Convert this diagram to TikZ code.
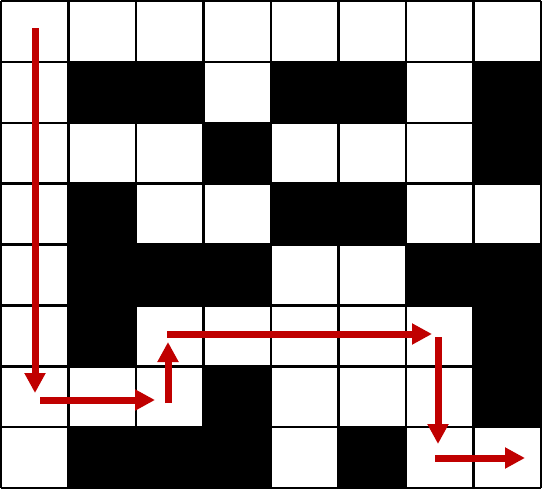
\documentclass[tikz,border=0pt]{standalone}
\usetikzlibrary{arrows.meta}
\definecolor{pathred}{HTML}{C00000}
\tikzset{
  cellwall/.style={fill=black},
  gridline/.style={draw=black,line width=2.5pt},
  route/.style={draw=pathred,line width=7pt,-{Triangle[length=20pt,width=20pt]}}
}
\begin{document}
\begin{tikzpicture}[x=1pt,y=-1pt]
\useasboundingbox (0,0) rectangle (547,490);
\fill[white] (0,0) rectangle (547,490);
\def\cw{67.5}
\def\ch{60.875}
\foreach \r/\c in {1/1,1/2,1/4,1/5,1/7,2/3,2/7,3/1,3/4,3/5,4/1,4/2,4/3,4/6,4/7,5/1,5/7,6/3,6/7,7/1,7/2,7/3,7/5}{
  \fill[cellwall] ({1+\c*\cw},{1+\r*\ch}) rectangle ({1+(\c+1)*\cw},{1+(\r+1)*\ch});
}
\foreach \i in {0,...,8}{
  \draw[gridline] ({1+\i*\cw},1) -- ({1+\i*\cw},488);
  \draw[gridline] (1,{1+\i*\ch}) -- (541,{1+\i*\ch});
}
\coordinate (a0) at (35,28);
\coordinate (a1) at (35,393);
\coordinate (b0) at (40,400);
\coordinate (b1) at (155,400);
\coordinate (c0) at (168,403);
\coordinate (c1) at (168,342);
\coordinate (d0) at (167,334);
\coordinate (d1) at (432,334);
\coordinate (e0) at (438,337);
\coordinate (e1) at (438,444);
\coordinate (f0) at (435,458);
\coordinate (f1) at (525,458);
\draw[route] (a0) -- (a1);
\draw[route] (b0) -- (b1);
\draw[route] (c0) -- (c1);
\draw[route] (d0) -- (d1);
\draw[route] (e0) -- (e1);
\draw[route] (f0) -- (f1);
\end{tikzpicture}
\end{document}
